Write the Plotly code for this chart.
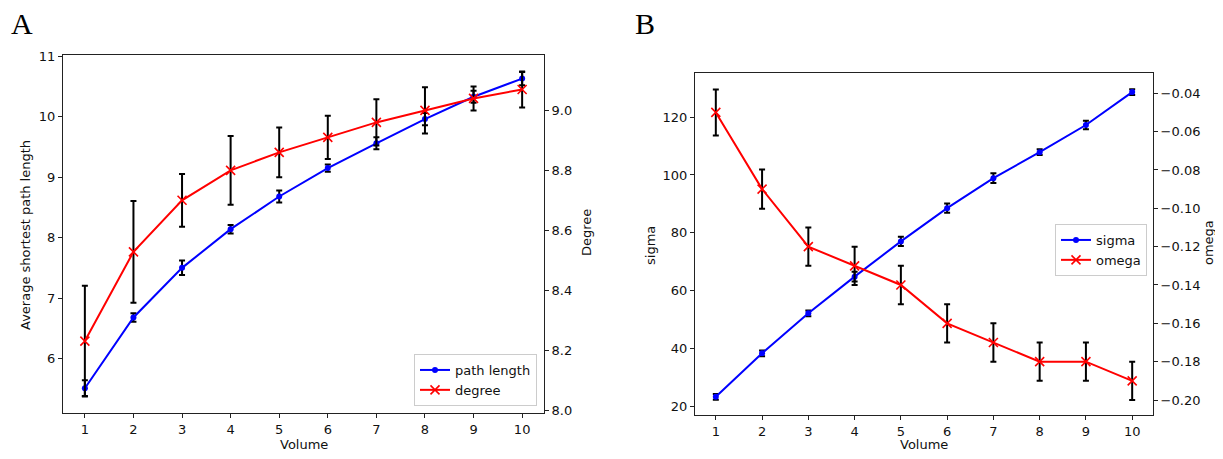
import plotly.graph_objects as go

volume = [1, 2, 3, 4, 5, 6, 7, 8, 9, 10]

path_length = [5.51, 6.68, 7.50, 8.14, 8.68, 9.15, 9.56, 9.96, 10.33, 10.63]
path_length_err = [0.13, 0.07, 0.12, 0.07, 0.10, 0.06, 0.10, 0.10, 0.10, 0.11]
degree = [8.23, 8.528, 8.70, 8.80, 8.86, 8.91, 8.96, 9.00, 9.04, 9.07]
degree_err = [0.185, 0.17, 0.088, 0.115, 0.083, 0.072, 0.077, 0.077, 0.04, 0.06]

sigma = [23.2, 38.25, 52.1, 64.8, 77.0, 88.5, 98.9, 107.9, 117.3, 128.7]
sigma_err = [1.0, 1.0, 1.0, 1.7, 1.6, 1.6, 1.7, 1.0, 1.5, 1.0]
omega = [-0.05, -0.09, -0.12, -0.13, -0.14, -0.16, -0.17, -0.18, -0.18, -0.19]
omega_err = [0.012, 0.0102, 0.01, 0.01, 0.01, 0.01, 0.01, 0.01, 0.01, 0.01]

# page body has an 8px margin; keep the figure inside the viewport (no scrollbars)
OFF = 8
W, H = 1223 - OFF, 459 - 2 * OFF
FONT = "DejaVu Sans"
BLUE = "#0000ff"
RED = "#ff0000"
TXT = "#111"


def px_x(v):
    return (v - OFF) / W


def px_y(v):
    return 1 - (v - OFF) / H


def err(arr):
    return dict(type="data", array=arr, visible=True, color="black",
                thickness=2, width=3)


fig = go.Figure()

fig.add_trace(go.Scatter(x=volume, y=path_length, mode="lines+markers",
                         name="path length", xaxis="x", yaxis="y",
                         line=dict(color=BLUE, width=2),
                         marker=dict(color=BLUE, size=6, symbol="circle"),
                         error_y=err(path_length_err), legend="legend"))
fig.add_trace(go.Scatter(x=volume, y=degree, mode="lines+markers",
                         name="degree", xaxis="x", yaxis="y2",
                         line=dict(color=RED, width=2),
                         marker=dict(color=RED, size=9, symbol="x-thin",
                                     line=dict(color=RED, width=1.6)),
                         error_y=err(degree_err), legend="legend"))
fig.add_trace(go.Scatter(x=volume, y=sigma, mode="lines+markers",
                         name="sigma", xaxis="x2", yaxis="y3",
                         line=dict(color=BLUE, width=2),
                         marker=dict(color=BLUE, size=6, symbol="circle"),
                         error_y=err(sigma_err), legend="legend2"))
fig.add_trace(go.Scatter(x=volume, y=omega, mode="lines+markers",
                         name="omega", xaxis="x2", yaxis="y4",
                         line=dict(color=RED, width=2),
                         marker=dict(color=RED, size=9, symbol="x-thin",
                                     line=dict(color=RED, width=1.6)),
                         error_y=err(omega_err), legend="legend2"))

axis_common = dict(showline=True, linecolor="#222", linewidth=1,
                   ticks="outside", ticklen=4, tickwidth=1, tickcolor="#222",
                   showgrid=False, zeroline=False,
                   tickfont=dict(family=FONT, size=13, color=TXT),
                   automargin=False)
title_font = dict(family=FONT, size=13, color=TXT)

L_dom_x = [px_x(63), px_x(544)]
L_dom_y = [px_y(413), px_y(55)]
R_dom_x = [px_x(695), px_x(1153)]
R_dom_y = [px_y(415), px_y(73.3)]

fig.update_layout(
    width=W, height=H,
    margin=dict(l=0, r=0, t=0, b=0),
    paper_bgcolor="white", plot_bgcolor="white",
    font=dict(family=FONT, size=13, color=TXT),
    xaxis=dict(**axis_common, domain=L_dom_x, anchor="y", mirror=True,
               range=[0.55, 10.45], tickvals=volume),
    yaxis=dict(**axis_common, domain=L_dom_y, anchor="x",
               range=[5.10, 11.02], tickvals=[6, 7, 8, 9, 10, 11]),
    yaxis2=dict(**axis_common, overlaying="y", side="right", anchor="x",
                range=[7.99, 9.185], tickvals=[8.0, 8.2, 8.4, 8.6, 8.8, 9.0],
                tickformat=".1f"),
    xaxis2=dict(**axis_common, domain=R_dom_x, anchor="y3", mirror=True,
                range=[0.55, 10.45], tickvals=volume),
    yaxis3=dict(**axis_common, domain=R_dom_y, anchor="x2",
                range=[16.9, 135.2], tickvals=[20, 40, 60, 80, 100, 120]),
    yaxis4=dict(**axis_common, overlaying="y3", side="right", anchor="x2",
                range=[-0.2078, -0.0296],
                tickvals=[-0.20, -0.18, -0.16, -0.14, -0.12, -0.10, -0.08,
                          -0.06, -0.04],
                tickformat=".2f"),
    legend=dict(x=px_x(537), y=px_y(406), xanchor="right", yanchor="bottom",
                bgcolor="rgba(255,255,255,0.8)", bordercolor="#cccccc",
                borderwidth=1, font=dict(family=FONT, size=13, color=TXT),
                tracegroupgap=0, itemwidth=30),
    legend2=dict(x=px_x(1147), y=px_y(224), xanchor="right", yanchor="top",
                 bgcolor="rgba(255,255,255,0.8)", bordercolor="#cccccc",
                 borderwidth=1, font=dict(family=FONT, size=13, color=TXT),
                 tracegroupgap=0, itemwidth=30),
    showlegend=True,
)

# axis titles placed at their exact positions
titles = [("Average shortest path length", 25, 235, -90),
          ("Degree", 586, 233, -90),
          ("sigma", 650, 245, -90),
          ("omega", 1208, 243, -90),
          ("Volume", 304, 444, 0),
          ("Volume", 924, 444, 0)]
for text, cx, cy, ang in titles:
    fig.add_annotation(text=text, x=px_x(cx), y=px_y(cy), xref="paper",
                       yref="paper", xanchor="center", yanchor="middle",
                       textangle=ang, showarrow=False, font=title_font)

fig.add_annotation(text="A", x=px_x(9), y=px_y(5), xref="paper", yref="paper",
                   xanchor="left", yanchor="top", showarrow=False,
                   font=dict(family="Liberation Serif", size=30, color="black"))
fig.add_annotation(text="B", x=px_x(633), y=px_y(5), xref="paper", yref="paper",
                   xanchor="left", yanchor="top", showarrow=False,
                   font=dict(family="Liberation Serif", size=30, color="black"))

fig.write_html("out.html")
